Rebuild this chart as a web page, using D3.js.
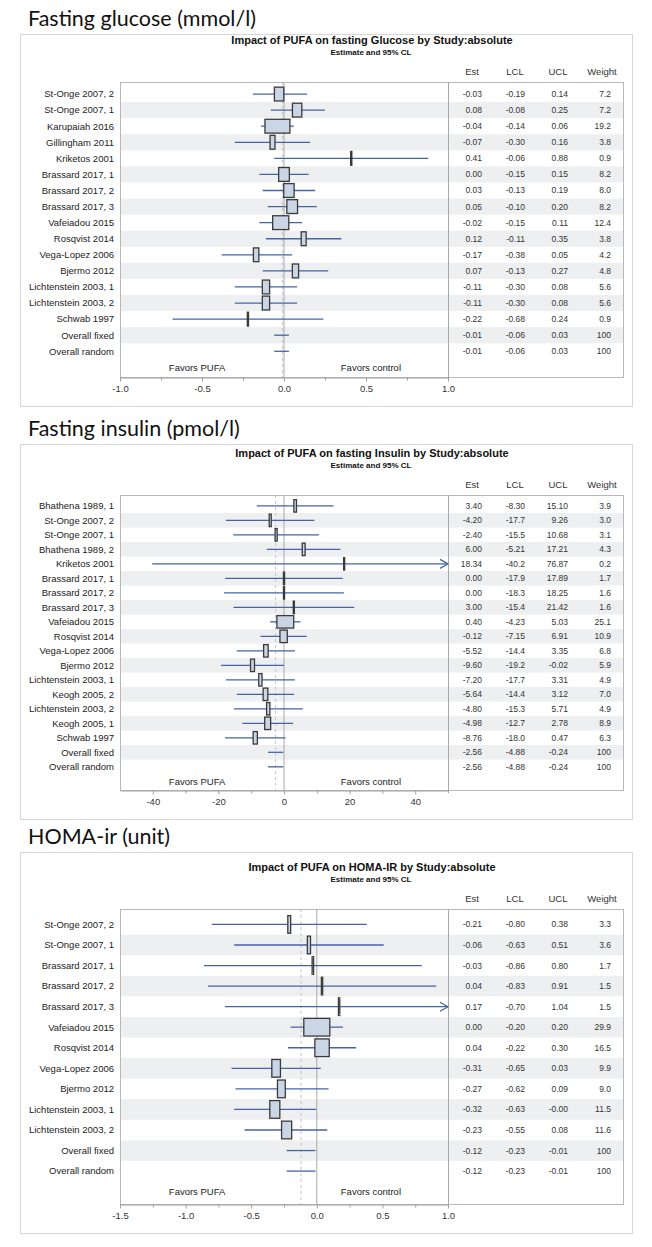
<!DOCTYPE html>
<html><head><meta charset="utf-8">
<script src="https://cdn.jsdelivr.net/npm/d3@7"></script>
<style>
body{margin:0;background:#fff}
svg{display:block}
text{font-family:"Liberation Sans",Arial,sans-serif}
</style></head><body>
<svg id="c" width="652" height="1247"></svg>
<script>
// ---------- Data ----------
const glucoseLabels = ["St-Onge 2007, 2","St-Onge 2007, 1","Karupaiah 2016","Gillingham 2011","Kriketos 2001","Brassard 2017, 1","Brassard 2017, 2","Brassard 2017, 3","Vafeiadou 2015","Rosqvist 2014","Vega-Lopez 2006","Bjermo 2012","Lichtenstein 2003, 1","Lichtenstein 2003, 2","Schwab 1997","Overall fixed","Overall random"];
const glucoseEst = [-0.03,0.08,-0.04,-0.07,0.41,0.00,0.03,0.05,-0.02,0.12,-0.17,0.07,-0.11,-0.11,-0.22,-0.01,-0.01];
const glucoseLcl = [-0.19,-0.08,-0.14,-0.30,-0.06,-0.15,-0.13,-0.10,-0.15,-0.11,-0.38,-0.13,-0.30,-0.30,-0.68,-0.06,-0.06];
const glucoseUcl = [0.14,0.25,0.06,0.16,0.88,0.15,0.19,0.20,0.11,0.35,0.05,0.27,0.08,0.08,0.24,0.03,0.03];
const glucoseWeight = [7.2,7.2,19.2,3.8,0.9,8.2,8.0,8.2,12.4,3.8,4.2,4.8,5.6,5.6,0.9,100,100];
const glucoseTicks = [-1,-0.5,0,0.5,1];
const glucoseMinor = [-0.75,-0.25,0.25,0.75];

const insulinLabels = ["Bhathena 1989, 1","St-Onge 2007, 2","St-Onge 2007, 1","Bhathena 1989, 2","Kriketos 2001","Brassard 2017, 1","Brassard 2017, 2","Brassard 2017, 3","Vafeiadou 2015","Rosqvist 2014","Vega-Lopez 2006","Bjermo 2012","Lichtenstein 2003, 1","Keogh 2005, 2","Lichtenstein 2003, 2","Keogh 2005, 1","Schwab 1997","Overall fixed","Overall random"];
const insulinEst = [3.40,-4.20,-2.40,6.00,18.34,0.00,0.00,3.00,0.40,-0.12,-5.52,-9.60,-7.20,-5.64,-4.80,-4.98,-8.76,-2.56,-2.56];
const insulinLcl = [-8.30,-17.7,-15.5,-5.21,-40.2,-17.9,-18.3,-15.4,-4.23,-7.15,-14.4,-19.2,-17.7,-14.4,-15.3,-12.7,-18.0,-4.88,-4.88];
const insulinUcl = [15.10,9.26,10.68,17.21,76.87,17.89,18.25,21.42,5.03,6.91,3.35,-0.02,3.31,3.12,5.71,2.78,0.47,-0.24,-0.24];
const insulinWeight = [3.9,3.0,3.1,4.3,0.2,1.7,1.6,1.6,25.1,10.9,6.8,5.9,4.9,7.0,4.9,8.9,6.3,100,100];
const insulinTicks = [-40,-20,0,20,40];
const insulinMinor = [-30,-10,10,30];

const homaLabels = ["St-Onge 2007, 2","St-Onge 2007, 1","Brassard 2017, 1","Brassard 2017, 2","Brassard 2017, 3","Vafeiadou 2015","Rosqvist 2014","Vega-Lopez 2006","Bjermo 2012","Lichtenstein 2003, 1","Lichtenstein 2003, 2","Overall fixed","Overall random"];
const homaEst = [-0.21,-0.06,-0.03,0.04,0.17,0.00,0.04,-0.31,-0.27,-0.32,-0.23,-0.12,-0.12];
const homaLcl = [-0.80,-0.63,-0.86,-0.83,-0.70,-0.20,-0.22,-0.65,-0.62,-0.63,-0.55,-0.23,-0.23];
const homaUcl = [0.38,0.51,0.80,0.91,1.04,0.20,0.30,0.03,0.09,-0.004,0.08,-0.01,-0.01];
const homaWeight = [3.3,3.6,1.7,1.5,1.5,29.9,16.5,9.9,9.0,11.5,11.6,100,100];
const homaTicks = [-1.5,-1,-0.5,0,0.5,1];
const homaMinor = [-1.25,-0.75,-0.25,0.25,0.75];

const tableHeaders = ["Est","LCL","UCL","Weight"];
const favorsLabels = ["Favors PUFA","Favors control"];

// ---------- Layout ----------
const svg = d3.select("#c");
const plotL = 120, plotR = 448, tableR = 623, outerL = 20, outerR = 632, plotH = 295;
const colRight = [482, 525, 568, 611];
const colHead = [472, 515, 558, 602];

function fmtNum(v){ let s = v.toFixed(2); if (s.length > 5) s = v.toFixed(1); return s; }
function fmtW(v){ return v >= 100 ? "100" : v.toFixed(1); }
const f1 = d3.format(".1f"), f0 = d3.format("d");

const panels = [
  {heading:"Fasting glucose (mmol/l)", title:"Impact of PUFA on fasting Glucose by Study:absolute",
   labels:glucoseLabels, est:glucoseEst, lcl:glucoseLcl, ucl:glucoseUcl, w:glucoseWeight,
   domain:[-1,1], ticks:glucoseTicks, minor:glucoseMinor, fmt:f1, top:82, outerTop:34, boxPx:1.3},
  {heading:"Fasting insulin (pmol/l)", title:"Impact of PUFA on fasting Insulin by Study:absolute",
   labels:insulinLabels, est:insulinEst, lcl:insulinLcl, ucl:insulinUcl, w:insulinWeight,
   domain:[-50,50], ticks:insulinTicks, minor:insulinMinor, fmt:f0, top:495, outerTop:444, boxPx:0.67},
  {heading:"HOMA-ir (unit)", title:"Impact of PUFA on HOMA-IR by Study:absolute",
   labels:homaLabels, est:homaEst, lcl:homaLcl, ucl:homaUcl, w:homaWeight,
   domain:[-1.5,1], ticks:homaTicks, minor:homaMinor, fmt:f1, top:909, outerTop:852, boxPx:0.87}
];

panels.forEach(p => {
  const g = svg.append("g");
  const top = p.top, bottom = top + plotH;
  const N = p.labels.length;
  const s = plotH / (N + 1.35);
  const y = d3.scalePoint().domain(d3.range(N + 1)).range([top + 0.75*s, top + 0.75*s + N*s]);
  const x = d3.scaleLinear().domain(p.domain).range([plotL, plotR]);
  const overall = p.est[N-1];

  // heading
  g.append("text").attr("x", 28).attr("y", p.outerTop - 8)
    .style("font-family", "Lato, 'Open Sans', sans-serif").style("font-size", "21.5px").attr("fill", "#111")
    .text(p.heading);
  // outer frame
  g.append("rect").attr("x", outerL + .5).attr("y", p.outerTop + .5)
    .attr("width", outerR - outerL).attr("height", bottom + 29 - p.outerTop)
    .attr("fill", "none").attr("stroke", "#d6d6d6");
  // titles
  g.append("text").attr("x", 372).attr("y", top - 38).attr("text-anchor", "middle")
    .style("font-size", "11px").style("font-weight", "bold").attr("fill", "#111").text(p.title);
  g.append("text").attr("x", 371).attr("y", top - 27).attr("text-anchor", "middle")
    .style("font-size", "8px").style("font-weight", "bold").attr("fill", "#111").text("Estimate and 95% CL");
  // headers
  g.selectAll(".hd").data(tableHeaders).join("text")
    .attr("x", (d,i) => colHead[i]).attr("y", top - 7).attr("text-anchor", "middle")
    .style("font-size", "9.5px").attr("fill", "#333").text(d => d);

  // stripes
  g.selectAll(".stripe").data(d3.range(N).filter(i => i % 2 === 1)).join("rect")
    .attr("x", plotL).attr("width", tableR - plotL)
    .attr("y", i => y(i) - s/2).attr("height", s).attr("fill", "#eeeff0");

  // reference lines
  g.append("line").attr("x1", x(overall)).attr("x2", x(overall)).attr("y1", top).attr("y2", bottom)
    .attr("stroke", "#c4c4c4").attr("stroke-dasharray", "3,3");
  g.append("line").attr("x1", x(0)).attr("x2", x(0)).attr("y1", top).attr("y2", bottom)
    .attr("stroke", "#a8a8a8");

  // frame of plot + table
  g.append("rect").attr("x", plotL + .5).attr("y", top + .5).attr("width", tableR - plotL).attr("height", plotH)
    .attr("fill", "none").attr("stroke", "#b8b8b8");
  g.append("line").attr("x1", plotR + .5).attr("x2", plotR + .5).attr("y1", top).attr("y2", bottom + 3)
    .attr("stroke", "#a8a8a8");

  const idx = d3.range(N);
  // CI lines
  g.selectAll(".ci").data(idx).join("line")
    .attr("x1", i => x(Math.max(p.lcl[i], p.domain[0])))
    .attr("x2", i => x(Math.min(p.ucl[i], p.domain[1])))
    .attr("y1", i => y(i)).attr("y2", i => y(i))
    .attr("stroke", "#4564a6").attr("stroke-width", 1.3);
  // arrows
  g.selectAll(".arr").data(idx.filter(i => p.ucl[i] > p.domain[1])).join("path")
    .attr("d", i => `M${x(p.domain[1]) - 8},${y(i) - 4.5}L${x(p.domain[1])},${y(i)}L${x(p.domain[1]) - 8},${y(i) + 4.5}`)
    .attr("fill", "none").attr("stroke", "#4564a6").attr("stroke-width", 1.2);
  // boxes
  const bh = 0.86 * s;
  g.selectAll(".bx").data(idx.filter(i => p.w[i] < 100)).join("rect")
    .attr("x", i => x(p.est[i]) - Math.max(p.boxPx * p.w[i], 1)/2)
    .attr("width", i => Math.max(p.boxPx * p.w[i], 1))
    .attr("y", i => y(i) - bh/2).attr("height", bh)
    .attr("fill", "#cad5e5").attr("stroke", "#3a3a3a").attr("stroke-width", 1.3);

  // row labels
  g.selectAll(".lb").data(idx).join("text")
    .attr("x", 114).attr("y", i => y(i)).attr("dy", "0.35em").attr("text-anchor", "end")
    .style("font-size", "9.5px").attr("fill", "#222").text(i => p.labels[i]);
  // table values
  const cols = [p.est.map(fmtNum), p.lcl.map(fmtNum), p.ucl.map(fmtNum), p.w.map(fmtW)];
  cols.forEach((col, c) => {
    g.selectAll(".v" + c).data(idx).join("text")
      .attr("x", colRight[c]).attr("y", i => y(i)).attr("dy", "0.35em").attr("text-anchor", "end")
      .style("font-size", "8.5px").attr("fill", "#333").text(i => col[i]);
  });
  // favors
  g.selectAll(".fv").data(favorsLabels).join("text")
    .attr("x", (d,i) => plotL + (i === 0 ? 0.235 : 0.765) * (plotR - plotL))
    .attr("y", y(N)).attr("dy", "0.35em").attr("text-anchor", "middle")
    .style("font-size", "9.5px").attr("fill", "#222").text(d => d);

  // axes
  const ax = g.append("g").attr("transform", `translate(0,${bottom + .5})`)
    .call(d3.axisBottom(x).tickValues(p.ticks).tickFormat(d => p.fmt(d).replace("\u2212", "-"))
      .tickSize(4).tickSizeOuter(0).tickPadding(4));
  ax.select(".domain").attr("stroke", "#a0a0a0");
  ax.selectAll(".tick line").attr("stroke", "#a0a0a0");
  ax.selectAll(".tick text").style("font-size", "9.5px").style("font-family", "'Liberation Sans', Arial, sans-serif").attr("fill", "#333");
  const mx = g.append("g").attr("transform", `translate(0,${bottom + .5})`)
    .call(d3.axisBottom(x).tickValues(p.minor).tickFormat("").tickSize(3).tickSizeOuter(0));
  mx.select(".domain").remove();
  mx.selectAll(".tick line").attr("stroke", "#a0a0a0");
});
</script>
</body></html>
